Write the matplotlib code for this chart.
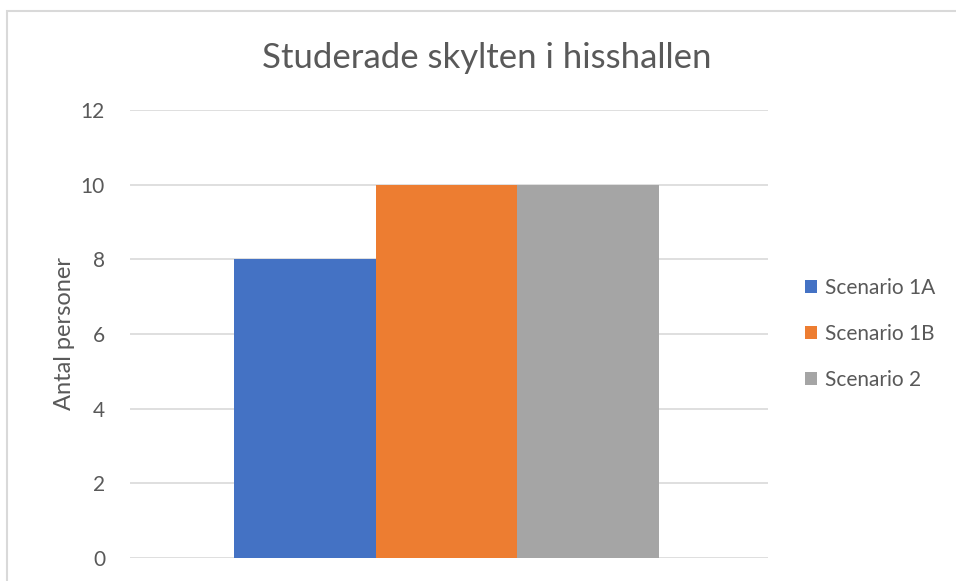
import matplotlib
matplotlib.use("Agg")
import matplotlib.pyplot as plt
from matplotlib.patches import Rectangle

plt.rcParams['font.family'] = ['Lato', 'DejaVu Sans']

series = ["Scenario 1A", "Scenario 1B", "Scenario 2"]
values = [8, 10, 10]
colors = ["#4472C4", "#ED7D31", "#A5A5A5"]
yticks = [0, 2, 4, 6, 8, 10, 12]
title = "Studerade skylten i hisshallen"
ylabel = "Antal personer"
text_color = "#595959"

W, H = 956, 581
fig = plt.figure(figsize=(W/100, H/100), dpi=100)
fig.patches.append(Rectangle((7/W, -0.2), 1.2, 1.2 - 11/H, transform=fig.transFigure,
                             fill=False, edgecolor="#d9d9d9", linewidth=1.5))
ax = fig.add_axes([130/W, 1 - 558/H, (768-130)/W, (558-110)/H])

for i, (s, v, c) in enumerate(zip(series, values, colors)):
    ax.bar(i - 1, v, width=1.0, color=c, label=s, zorder=3)

ax.set_ylim(0, 12)
ax.set_xlim(-2.234, 2.269)
ax.set_yticks(yticks)
ax.set_yticklabels([str(t) for t in yticks], color=text_color, fontsize=15)
ax.set_xticks([])
ax.tick_params(axis='y', length=0, pad=18)
ax.grid(axis='y', color="#d9d9d9", linewidth=1.2, zorder=0)
for sp in ax.spines.values():
    sp.set_visible(False)
ax.set_ylabel(ylabel, color=text_color, fontsize=17, labelpad=4)
fig.text(487/W, 1 - 58/H, title, ha='center', va='center', color=text_color, fontsize=25)

leg = fig.legend(loc='center left', bbox_to_anchor=(786/W, 1 - 334/H), frameon=False,
                 fontsize=15, handlelength=0.6, handleheight=0.6, handletextpad=0.35,
                 labelspacing=1.25, labelcolor=text_color)

fig.savefig("out.png", dpi=100)
